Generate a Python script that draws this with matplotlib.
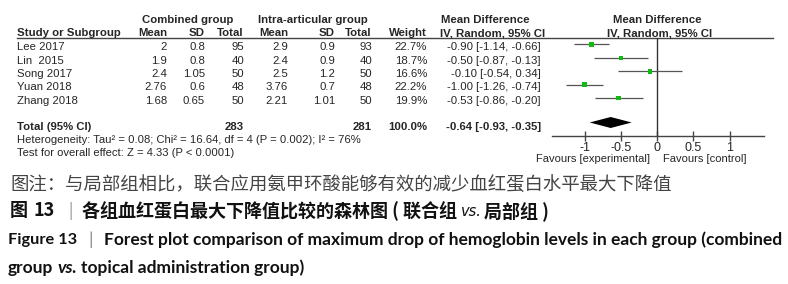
import matplotlib
matplotlib.use('Agg')
import matplotlib.pyplot as plt
import numpy as np

# === Data ===
studies     = ['Lee 2017', 'Lin  2015', 'Song 2017', 'Yuan 2018', 'Zhang 2018']
comb_mean   = [2, 1.9, 2.4, 2.76, 1.68]
comb_sd     = [0.8, 0.8, 1.05, 0.6, 0.65]
comb_n      = [95, 40, 50, 48, 50]
intra_mean  = [2.9, 2.4, 2.5, 3.76, 2.21]
intra_sd    = [0.9, 0.9, 1.2, 0.7, 1.01]
intra_n     = [93, 40, 50, 48, 50]
weights     = [22.7, 18.7, 16.6, 22.2, 19.9]
md          = [-0.90, -0.50, -0.10, -1.00, -0.53]
ci_lo       = [-1.14, -0.87, -0.54, -1.26, -0.86]
ci_hi       = [-0.66, -0.13, 0.34, -0.74, -0.20]
total_comb  = 283
total_intra = 281
total_md, total_lo, total_hi = -0.64, -0.93, -0.35
xticks      = [-1, -0.5, 0, 0.5, 1]
xticklabels = ['-1', '-0.5', '0', '0.5', '1']

# === Style ===
TXT   = '#262626'
LINE  = '#444444'
GREEN = '#13b913'
TABLE_FONT = 'Liberation Sans'
CJK   = ['Noto Sans CJK SC', 'DejaVu Sans']
EN    = 'Lato'
HB    = 8.2   # bold header size
RS    = 8.2   # row text size

fig = plt.figure(figsize=(7.88, 2.84), dpi=100, facecolor='white')
bg = fig.add_axes([0, 0, 1, 1])
bg.set_xlim(0, 788)
bg.set_ylim(284, 0)
bg.axis('off')

def t(x, y, s, ha='left', bold=False, size=RS, **kw):
    bg.text(x, y, s, ha=ha, va='center', fontsize=size, color=kw.pop('color', TXT),
            fontweight='bold' if bold else 'normal', family=TABLE_FONT, **kw)

# headers
t(142, 20, 'Combined group', bold=True, size=HB)
t(258, 20, 'Intra-articular group', bold=True, size=HB)
t(441, 20, 'Mean Difference', bold=True, size=HB)
t(613, 20, 'Mean Difference', bold=True, size=HB)
hdr_y = 33
t(17, hdr_y, 'Study or Subgroup', bold=True, size=HB)
t(167, hdr_y, 'Mean', ha='right', bold=True, size=HB)
t(205, hdr_y, 'SD', ha='right', bold=True, size=HB)
t(244, hdr_y, 'Total', ha='right', bold=True, size=HB)
t(288, hdr_y, 'Mean', ha='right', bold=True, size=HB)
t(335, hdr_y, 'SD', ha='right', bold=True, size=HB)
t(372, hdr_y, 'Total', ha='right', bold=True, size=HB)
t(427, hdr_y, 'Weight', ha='right', bold=True, size=HB)
t(440, hdr_y, 'IV, Random, 95% CI', bold=True, size=HB)
t(607, hdr_y, 'IV, Random, 95% CI', bold=True, size=HB)
bg.plot([17, 773], [37.7, 37.7], color=LINE, lw=1)

# rows
row_y = [46.7, 60.5, 74, 87.3, 100.5]
for i, y in enumerate(row_y):
    t(17, y, studies[i])
    t(167, y, f'{comb_mean[i]:g}', ha='right')
    t(205, y, f'{comb_sd[i]:g}', ha='right')
    t(244, y, f'{comb_n[i]}', ha='right')
    t(288, y, f'{intra_mean[i]:g}', ha='right')
    t(335, y, f'{intra_sd[i]:g}', ha='right')
    t(372, y, f'{intra_n[i]}', ha='right')
    t(427, y, f'{weights[i]:.1f}%', ha='right')
    t(541, y, f'{md[i]:.2f} [{ci_lo[i]:.2f}, {ci_hi[i]:.2f}]', ha='right')

tot_y = 127.5
t(17, tot_y, 'Total (95% CI)', bold=True, size=HB)
t(244, tot_y, f'{total_comb}', ha='right', bold=True, size=HB)
t(372, tot_y, f'{total_intra}', ha='right', bold=True, size=HB)
t(427, tot_y, '100.0%', ha='right', bold=True, size=HB)
t(541, tot_y, f'{total_md:.2f} [{total_lo:.2f}, {total_hi:.2f}]', ha='right', bold=True, size=HB)
t(17, 140, 'Heterogeneity: Tau\u00b2 = 0.08; Chi\u00b2 = 16.64, df = 4 (P = 0.002); I\u00b2 = 76%', size=8.1)
t(17, 152.5, 'Test for overall effect: Z = 4.33 (P < 0.0001)', size=8.1)
t(650, 159.5, 'Favours [experimental]', ha='right', size=8.0)
t(663, 159.5, 'Favours [control]', size=8.0)

# forest panel
ax = fig.add_axes([552 / 788, (284 - 136) / 284, (764 - 552) / 788, (136 - 37.7) / 284])
ax.set_xlim(-1.45, 1.475)
ax.set_ylim(136, 37.7)
ax.patch.set_alpha(0)
for s in ['top', 'left', 'right']:
    ax.spines[s].set_visible(False)
ax.spines['bottom'].set_color(LINE)
ax.spines['bottom'].set_linewidth(1)
ax.set_yticks([])
ax.set_xticks(xticks)
ax.set_xticklabels(xticklabels, family=TABLE_FONT, fontsize=9, color=TXT)
ax.tick_params(axis='x', direction='inout', length=7, width=1, color=LINE, pad=0.5)
ax.axvline(0, color='#333333', lw=1)

mk_y = np.array(row_y) - 2.5
ax.hlines(mk_y, ci_lo, ci_hi, color='#555555', lw=0.9, zorder=2)
ax.scatter(md, mk_y, marker='s', s=np.array(weights) * 0.6, color=GREEN, zorder=3, linewidths=0)
dy = 122.5
ax.fill([total_lo, total_md, total_hi, total_md], [dy, dy - 5.5, dy, dy + 5.5],
        color='black', zorder=3, lw=0)

# === Caption ===
renderer = fig.canvas.get_renderer()

def chain(x, y, parts, **common):
    for s, extra, gap in parts:
        kw = dict(common)
        kw.update(extra)
        tx = bg.text(x, y, s, va='center', ha='left', **kw)
        bb = tx.get_window_extent(renderer=renderer)
        x += bb.width + gap

bg.text(10, 185, '图注：与局部组相比，联合应用氨甲环酸能够有效的减少血红蛋白水平最大下降值',
        va='center', ha='left', fontsize=13.25, family=CJK, color='#444444')

chain(10, 211, [
    ('图', {}, 6),
    ('13', {}, 13),
    ('|', {'fontweight': 'normal', 'color': '#888888', 'fontsize': 11}, 10),
    ('各组血红蛋白最大下降值比较的森林图 ( 联合组', {}, 3),
    ('vs.', {'style': 'italic', 'family': 'DejaVu Sans', 'fontweight': 'normal',
             'fontsize': 10.5}, 3),
    ('局部组 )', {}, 0),
], fontsize=13, family=CJK, fontweight='bold', color='#111111')

chain(8, 240, [
    ('Figure 13', {'fontsize': 11.8}, 11),
    ('|', {'fontweight': 'normal', 'color': '#888888'}, 11),
    ('Forest plot comparison of maximum drop of hemoglobin levels in each group (combined', {}, 0),
], fontsize=12.5, family=EN, fontweight='bold', color='#111111')

chain(8, 268, [
    ('group', {}, 4),
    ('vs.', {'style': 'italic'}, 4),
    ('topical administration group)', {}, 0),
], fontsize=12.5, family=EN, fontweight='bold', color='#111111')

fig.savefig('out.png', dpi=100, facecolor='white')
